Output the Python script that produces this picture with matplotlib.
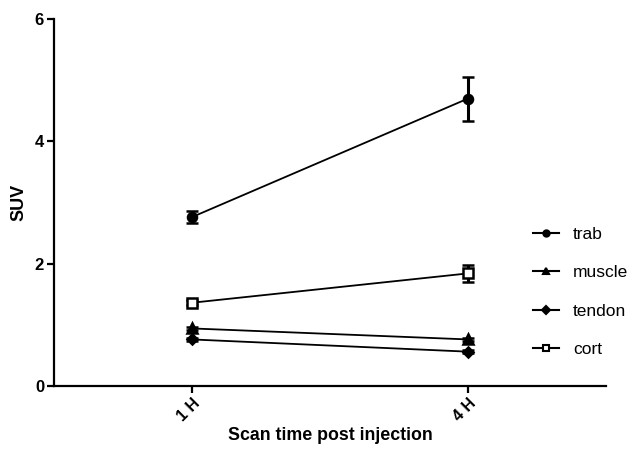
import numpy as np
import matplotlib
matplotlib.use('Agg')
from matplotlib import pyplot as plt
from matplotlib.lines import Line2D

plt.rcParams['font.family'] = ['Liberation Sans', 'DejaVu Sans']

times = ['1 H', '4 H']
trab = [2.76, 4.70]
trab_err = [0.10, 0.36]
muscle = [0.94, 0.76]
muscle_err = [0.03, 0.03]
tendon = [0.76, 0.56]
tendon_err = [0.03, 0.03]
cort = [1.36, 1.84]
cort_err = [0.04, 0.14]

x = np.arange(len(times))

fig = plt.figure(figsize=(6.4, 4.54), dpi=100)
ax = fig.add_axes([0.084, 0.15, 0.863, 0.808])

series = [
    ('trab', trab, trab_err, 'o', 'black'),
    ('muscle', muscle, muscle_err, '^', 'black'),
    ('tendon', tendon, tendon_err, 'D', 'black'),
    ('cort', cort, cort_err, 's', 'white'),
]
handles = []
for name, vals, err, mk, fc in series:
    ms = 5.5 if mk == 'D' else 6.5
    ax.errorbar(x, vals, yerr=err, marker=mk, markersize=ms, color='black',
                markerfacecolor=fc, markeredgecolor='black', markeredgewidth=1.8,
                linewidth=1.3, elinewidth=2.2, capsize=4.5, capthick=2.2)
    # legend handles: plain line + small marker, no error bars
    handles.append(Line2D([], [], color='black', linewidth=1.5, marker=mk,
                          markersize=4.5 if mk != 'D' else 4, markerfacecolor=fc,
                          markeredgecolor='black', markeredgewidth=1.5))

ax.set_xlim(-0.5, 1.5)
ax.set_ylim(0, 6)
ax.set_yticks([0, 2, 4, 6])
ax.set_xticks(x)
ax.set_xticklabels(times, rotation=45, ha='right', rotation_mode='anchor',
                   fontweight='bold', fontsize=11.5)
for lab in ax.get_yticklabels():
    lab.set_fontweight('bold')
    lab.set_fontsize(12)

ax.spines['top'].set_visible(False)
ax.spines['right'].set_visible(False)
ax.spines['left'].set_linewidth(1.6)
ax.spines['bottom'].set_linewidth(1.6)
ax.tick_params(axis='both', width=1.6, length=5, pad=2)

ax.set_xlabel('Scan time post injection', fontweight='bold', fontsize=12.8, labelpad=2)
ax.set_ylabel('SUV', fontweight='bold', fontsize=13, labelpad=5)

fig.legend(handles=handles, labels=[s[0] for s in series],
           loc='upper left', bbox_to_anchor=(0.833, 0.5),
           frameon=False, fontsize=12.5, handlelength=1.5, handletextpad=0.8,
           labelspacing=1.33, borderaxespad=0, borderpad=0)

plt.savefig('out.png', dpi=100)
